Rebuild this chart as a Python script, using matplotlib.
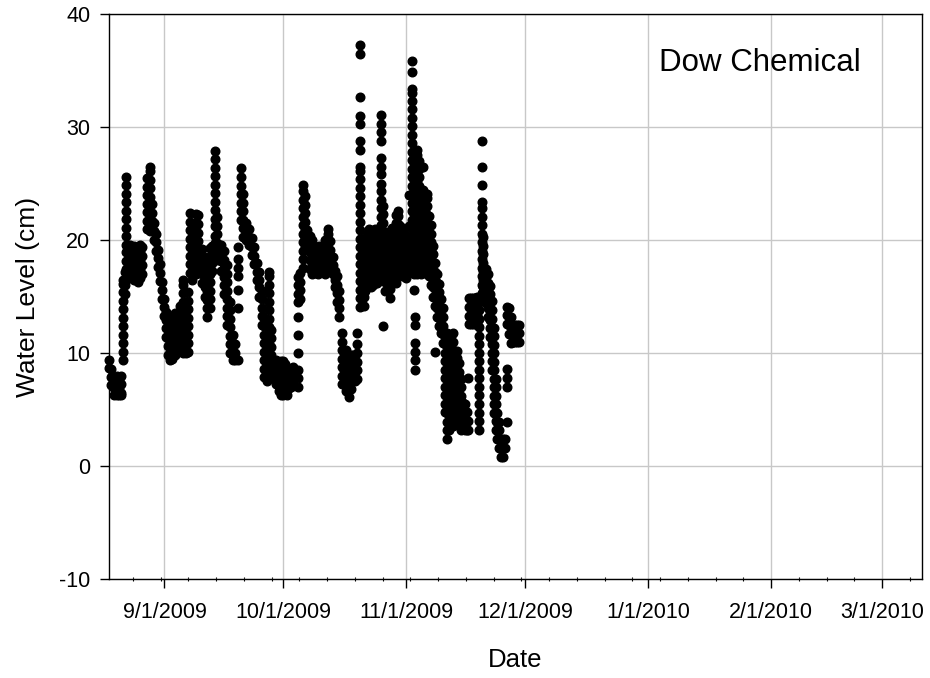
import pandas as pd
import matplotlib
matplotlib.use("Agg")
import matplotlib.pyplot as plt
import matplotlib.dates as mdates

plt.rcParams['font.family'] = ['Liberation Sans', 'DejaVu Sans']
plt.rcParams['axes.unicode_minus'] = False

# days after 2009-08-18 for each stack of readings, and the readings (cm)
start = pd.Timestamp('2009-08-18')
col_day = [
    0.1, 0.6, 1.2, 2.0, 2.6, 3.0, 3.5, 4.0, 4.3, 4.7,
    5.2, 5.7, 6.2, 6.8, 7.3, 7.8, 8.3, 9.6, 10.4, 10.9,
    11.4, 11.9, 12.4, 12.9, 13.4, 13.9, 14.4, 14.9, 15.4, 15.9,
    16.6, 17.1, 17.9, 18.6, 19.4, 19.9, 20.5, 21.0, 22.0, 22.5,
    23.5, 24.1, 24.8, 25.4, 26.0, 26.8, 27.3, 28.3, 29.0, 29.8,
    30.6, 31.3, 31.8, 32.6, 33.3, 33.8, 34.6, 35.3, 36.0, 36.6,
    37.3, 37.9, 38.5, 39.0, 39.6, 39.9, 40.3, 40.8, 41.5, 42.1,
    42.8, 43.3, 43.8, 44.3, 44.8, 45.3, 45.8, 46.5, 47.7, 48.2,
    48.9, 49.4, 49.9, 50.6, 51.1, 51.6, 52.1, 52.6, 53.1, 53.6,
    54.4, 55.2, 55.7, 56.4, 57.0, 57.5, 58.0, 58.7, 59.3, 59.9,
    60.5, 61.0, 61.5, 62.0, 62.6, 63.2, 63.7, 64.2, 64.7, 65.2,
    65.7, 66.2, 66.7, 67.2, 67.7, 68.5, 69.0, 69.6, 70.3, 70.8,
    71.3, 71.8, 72.3, 72.8, 73.3, 73.8, 74.3, 74.8, 75.8, 76.4,
    77.0, 77.3, 77.8, 78.3, 78.8, 79.3, 79.8, 80.3, 80.8, 81.3,
    81.8, 82.3, 82.8, 83.3, 83.8, 84.3, 84.8, 85.3, 85.8, 86.3,
    86.8, 87.3, 87.8, 88.3, 88.8, 89.3, 89.8, 90.3, 90.6, 90.9,
    91.4, 91.9, 92.4, 92.9, 93.4, 94.0, 94.4, 95.0, 95.5, 96.0,
    96.5, 97.0, 97.5, 98.0, 98.5, 99.0, 99.5, 100.0, 100.4, 101.0,
    101.5, 102.0, 102.5, 103.0, 103.4,
]
col_levels = [
    [9.4, 8.7], [8.6, 7.9, 7.2], [7.6, 6.9, 6.3], [8.0, 7.3, 6.6, 6.3],
    [7.6, 6.9, 6.3], [8.0, 7.3, 6.5, 6.3],
    [9.4, 10.1, 10.9, 11.6, 12.4, 13.1, 13.9, 14.6, 15.4, 16.1, 16.5],
    [15.2, 16.0, 16.5, 17.2],
    [16.6, 17.4, 18.1, 18.9, 19.6, 20.4, 21.1, 21.9, 22.6, 23.4, 24.1, 24.9, 25.6],
    [16.6, 17.4, 18.2, 19.0, 19.6],
    [16.6, 17.4, 18.1, 18.9, 19.6], [17.0, 17.8, 18.5, 19.3],
    [16.5, 17.3, 18.0, 18.8, 19.5], [17.1, 17.9, 18.6, 19.4],
    [16.3, 17.0, 17.8, 18.5, 19.3], [16.6, 17.4, 18.2, 19.0, 19.6],
    [17.0, 17.8, 18.6, 19.4],
    [21.0, 21.7, 22.5, 23.2, 24.0, 24.7, 25.5],
    [20.8, 21.6, 22.3, 23.1, 23.8, 24.6, 25.3, 26.1, 26.5],
    [20.9, 21.7, 22.4, 23.2],
    [20.0, 20.8, 21.5], [19.0, 19.8, 20.5], [17.6, 18.4, 19.1], [16.4, 17.1, 17.9],
    [14.8, 15.6, 16.3], [13.3, 14.1, 14.8], [11.4, 12.2, 12.9, 13.6],
    [9.8, 10.6, 11.3, 12.1], [9.4, 10.1, 10.9],
    [9.5, 10.2, 11.0, 11.7, 12.5, 13.2],
    [9.8, 10.5, 11.3, 12.0, 12.8, 13.5], [10.3, 11.0, 11.8, 12.5],
    [10.5, 11.2, 12.0, 12.7, 13.5, 14.2],
    [10.0, 10.8, 11.5, 12.3, 13.0, 13.8, 14.5, 15.3, 16.0, 16.5],
    [10.0, 10.8, 11.5, 12.3, 13.0, 13.8],
    [10.1, 10.9, 11.6, 12.4, 13.1, 13.9, 14.6, 15.4],
    [17.1, 17.9, 18.6, 19.4, 20.1, 20.9, 21.6, 22.4],
    [16.5, 17.3, 18.0, 18.8, 19.5, 20.3],
    [17.0, 17.8, 18.5, 19.3, 20.0, 20.8, 21.5, 22.3],
    [17.6, 18.4, 19.1, 19.9, 20.6, 21.4, 22.2],
    [16.2, 17.0, 17.7, 18.5, 19.2], [15.0, 15.8, 16.5, 17.3, 18.0],
    [13.2, 14.0, 14.7, 15.5, 16.2, 17.0, 17.7, 18.5],
    [14.0, 14.8, 15.5, 16.3, 17.0, 17.8, 18.5, 19.3],
    [17.3, 18.0, 18.8, 19.5],
    [18.9, 19.7, 20.4, 21.2, 21.9, 22.7, 23.4, 24.2, 24.9, 25.7, 26.4, 27.2, 27.9],
    [18.2, 19.0, 19.7, 20.5, 21.2, 22.0],
    [17.3, 18.1, 18.8, 19.6], [15.2, 16.0, 16.7, 17.5, 18.2, 19.0],
    [12.5, 13.3, 14.0, 14.8, 15.5, 16.3, 17.0, 17.8],
    [10.0, 10.8, 11.5, 12.3, 13.0, 13.8, 14.5],
    [9.4, 10.1, 10.9, 11.6], [9.4, 10.0, 10.8],
    [9.4, 14.0, 15.6, 16.8, 17.5, 18.3, 19.4],
    [21.8, 22.6, 23.3, 24.1, 24.8, 25.6, 26.4],
    [20.3, 21.1, 21.8, 22.6, 23.3, 24.1],
    [20.0, 20.8, 21.5], [19.6, 20.3, 21.0], [18.7, 19.4, 20.2], [17.9, 18.6, 19.4],
    [16.5, 17.2, 18.0], [15.0, 15.8, 16.5, 17.2], [12.5, 13.3, 14.0, 14.8, 15.5],
    [7.9, 8.6, 9.4, 10.1, 10.9, 11.6, 12.4, 13.1],
    [7.9, 8.6, 9.4, 10.2, 11.0], [7.5, 8.2, 9.0],
    [8.5, 9.3, 10.0, 10.8, 11.5, 12.3, 13.0, 13.8, 14.5, 15.3, 16.0, 16.8, 17.2],
    [9.0, 9.8, 10.5, 11.3, 12.0],
    [7.8, 8.5, 9.3], [7.3, 8.0, 8.8, 9.4],
    [6.6, 7.3, 8.1, 8.8], [6.3, 7.0, 7.8, 8.5, 9.3], [6.3, 7.0, 7.8, 8.5, 9.3],
    [6.8, 7.5, 8.3, 9.0], [6.3, 7.1, 7.8, 8.6], [6.9, 7.6, 8.4], [7.0, 7.8, 8.5],
    [7.3, 8.1, 8.8],
    [7.0, 7.8, 8.5, 10.0, 11.6, 13.2, 14.5, 15.2, 16.0, 16.7],
    [14.8, 15.6, 16.3, 17.1],
    [17.5, 18.3, 19.0, 19.8, 20.5, 21.3, 22.0, 22.8, 23.5, 24.3, 24.9],
    [19.4, 20.1, 20.9, 21.6, 22.4, 23.1, 23.9], [19.4, 20.1, 20.9],
    [17.4, 18.2, 18.9, 19.7, 20.4], [17.0, 17.8, 18.5, 19.3, 20.0],
    [17.2, 17.9, 18.7, 19.4], [17.1, 17.9, 18.6, 19.4], [17.0, 17.7, 18.5, 19.2],
    [17.3, 18.0, 18.8, 19.5], [17.8, 18.6, 19.3],
    [17.0, 17.7, 18.5, 19.2, 20.0], [18.2, 19.0, 19.7, 20.5, 21.0],
    [17.6, 18.4, 19.1, 19.9],
    [17.0, 17.8, 18.5], [15.8, 16.5, 17.3], [14.5, 15.3, 16.0, 16.8],
    [13.2, 14.0, 14.7, 15.5],
    [7.3, 8.0, 8.8, 9.5, 10.3, 11.0, 11.8], [7.8, 8.5, 9.3, 10.0],
    [6.6, 7.3, 8.1, 8.8, 9.6, 10.3], [6.1, 6.8, 7.6, 8.3, 9.1, 9.8],
    [6.8, 7.6, 8.3, 9.1, 9.8], [7.5, 8.3, 9.0, 9.8], [7.5, 8.3, 9.0, 9.8],
    [7.7, 8.5, 9.2, 10.0, 10.8, 11.8],
    [14.1, 14.9, 15.6, 16.4, 17.1, 17.9, 18.6, 19.4, 20.1, 20.9, 21.6, 22.4,
     23.1, 23.9, 24.6, 25.4, 26.1, 26.5, 28.0, 28.8, 30.3, 31.0, 32.7, 36.5, 37.3],
    [14.8, 15.6, 16.3, 17.1, 17.8, 18.6, 19.3, 20.1],
    [14.2, 15.0, 15.7, 16.5, 17.2, 18.0, 18.7, 19.5],
    [15.5, 16.3, 17.0, 17.8, 18.5, 19.3, 20.0],
    [16.0, 16.8, 17.5, 18.3, 19.0, 19.8, 20.5],
    [16.4, 17.2, 17.9, 18.7, 19.4, 20.2, 21.0],
    [15.8, 16.5, 17.3, 18.0, 18.8, 19.5, 20.3],
    [16.0, 16.8, 17.5, 18.3, 19.0, 19.8],
    [16.5, 17.3, 18.0, 18.8, 19.5, 20.3, 21.0],
    [16.2, 17.0, 17.7, 18.5, 19.2, 20.0],
    [16.8, 17.5, 18.3, 19.0, 19.8, 20.5, 21.3, 22.0, 22.8, 23.5, 24.3, 25.0,
     25.8, 26.5, 27.3, 28.8, 29.6, 30.3, 31.1],
    [12.4, 17.0, 17.8, 18.5, 19.3, 20.0, 20.8, 21.5, 22.3, 23.0],
    [15.5, 16.3, 17.0, 17.8, 18.5, 19.3, 20.0],
    [16.2, 17.0, 17.7, 18.5, 19.2, 20.0, 20.7],
    [14.9, 15.7, 16.4, 17.2, 17.9, 18.7, 19.4, 20.2],
    [16.6, 17.4, 18.1, 18.9, 19.6, 20.4, 21.1],
    [17.0, 17.7, 18.5, 19.2, 20.0, 20.7],
    [16.2, 17.0, 17.7, 18.5, 19.2, 20.0, 20.7, 21.5, 22.2],
    [16.9, 17.6, 18.4, 19.1, 19.9, 20.6, 21.4, 22.1, 22.6],
    [17.4, 18.2, 18.9, 19.7, 20.4, 21.2],
    [16.8, 17.6, 18.3, 19.1, 19.8],
    [17.3, 18.1, 18.8, 19.6, 20.3, 21.0],
    [16.6, 17.4, 18.1, 18.9, 19.6],
    [17.4, 18.2, 18.9, 19.7, 20.4, 21.2, 24.0],
    [17.3, 18.1, 18.8, 19.6, 20.3, 21.1, 21.8, 22.6, 23.3, 24.1, 24.8, 25.6,
     26.3, 27.1, 27.8, 28.6, 29.3, 30.1, 30.8, 31.6, 32.3, 33.0, 33.4, 34.9, 35.8],
    [15.6, 17.0, 17.8, 18.5, 19.3, 20.0, 20.8, 21.5, 22.3, 23.0, 23.8, 24.5,
     25.3, 26.0, 26.8, 27.5],
    [8.5, 9.4, 10.1, 10.9, 12.5, 13.2],
    [17.0, 17.7, 18.5, 19.2, 20.0, 20.7, 21.5, 22.2, 23.0, 23.7, 24.5, 25.2,
     26.0, 26.7, 27.5, 28.0],
    [17.3, 18.1, 18.8, 19.6, 20.3, 21.1, 21.8, 22.6, 23.3, 24.1, 24.8, 25.6,
     26.3, 27.0],
    [17.0, 17.7, 18.5, 19.2, 20.0, 20.7, 21.5, 22.2, 23.0, 23.7],
    [17.6, 18.4, 19.1, 19.9, 20.6, 21.4, 22.1, 22.9, 23.6, 24.4, 26.5],
    [17.3, 18.1, 18.8, 19.6, 20.3, 21.1, 21.8, 22.6],
    [17.0, 17.7, 18.5, 19.2, 20.0, 20.7, 21.5, 22.2, 23.0, 23.7, 24.1],
    [16.8, 17.6, 18.3, 19.1, 19.8, 20.6, 21.3, 22.1],
    [16.0, 16.8, 17.5, 18.3, 19.0, 19.8, 20.5, 21.3],
    [15.0, 15.8, 16.5, 17.3, 18.0, 18.8, 19.5],
    [10.1, 14.2, 15.0, 15.7, 16.5, 17.2, 18.0],
    [13.2, 14.0, 14.7, 15.5, 16.2, 17.0],
    [12.4, 13.1, 13.9, 14.6, 15.4, 16.1],
    [11.8, 12.5, 13.3, 14.0, 14.8],
    [10.9, 11.7, 12.4, 13.2, 14.0],
    [4.8, 5.5, 6.3, 7.0, 7.8, 8.5, 9.3, 10.0, 10.8, 11.5],
    [2.4, 3.2, 3.9, 4.7, 5.4, 6.2, 6.9, 7.7, 8.4, 9.2, 9.9, 10.7, 11.4, 11.8],
    [3.2, 4.0, 4.7, 5.5, 6.2, 7.0, 7.7, 8.5, 9.2, 10.0, 10.7],
    [4.0, 4.8, 5.5, 6.3, 7.0, 7.8, 8.5, 9.3, 10.0, 10.8, 11.5],
    [3.5, 4.3, 5.0, 5.8, 6.5, 7.3, 8.0, 8.8, 9.5, 10.3, 11.0, 11.8],
    [4.0, 4.8, 5.5, 6.3, 7.0, 7.8, 8.5, 9.3, 10.0],
    [4.4, 5.1, 5.9, 6.6, 7.4, 8.1, 8.9, 9.6, 10.2],
    [3.8, 4.6, 5.3, 6.1, 6.8, 7.6, 8.3, 9.1],
    [3.2, 4.0, 4.7, 5.5, 6.2, 7.0, 7.7],
    [3.5, 4.3, 5.0, 5.6], [3.2, 4.0, 4.7, 5.5], [3.2, 4.0, 4.8], [3.2, 4.0, 7.8],
    [12.6, 13.3, 14.1, 14.9], [12.6, 13.4, 14.1, 14.9], [12.6, 13.3, 14.1, 14.9],
    [12.6, 13.3, 14.1, 14.9], [12.6, 13.4, 14.2, 15.0],
    [3.2, 4.0, 4.7, 5.5, 6.3, 7.0, 7.8, 8.5, 9.3, 10.0, 10.8, 11.5, 12.3, 13.0,
     13.8, 14.5],
    [15.3, 16.0, 16.8, 17.5, 18.3, 19.0, 19.8, 20.5, 21.3, 22.0, 22.8, 23.4,
     24.9, 26.5, 28.8],
    [15.0, 15.8, 16.5, 17.3, 18.0, 18.8, 19.5, 20.3],
    [14.4, 15.2, 15.9, 16.7, 17.4],
    [13.2, 14.0, 14.7, 15.5, 16.2, 17.0],
    [11.4, 12.2, 12.9, 13.7, 14.4, 15.2, 15.9],
    [8.5, 9.3, 10.0, 10.8, 11.5, 12.3, 13.0, 13.8, 14.6],
    [4.7, 5.5, 6.2, 7.0, 7.7, 8.5, 9.2, 10.0, 10.7, 11.5, 12.2],
    [3.2, 4.0, 4.7, 5.5, 6.2, 7.0, 7.7],
    [2.4, 3.2, 3.9, 4.7], [1.6, 2.4, 3.2, 3.9], [0.8, 1.6, 2.4], [0.8, 1.6, 2.4],
    [1.6, 2.4],
    [3.9, 7.0, 7.8, 8.6, 12.6, 13.4, 14.1],
    [11.7, 12.5, 13.2, 14.0], [10.9, 11.7, 12.4, 13.2], [11.0, 11.8, 12.5],
    [11.0, 11.8, 12.5], [11.0, 11.7, 12.5], [11.0, 11.8, 12.5],
]

month_ticks = pd.date_range('2009-09-01', '2010-03-01', freq='MS')

fechas = []
niveles = []
for d, vals in zip(col_day, col_levels):
    for v in vals:
        fechas.append(start + pd.Timedelta(days=d))
        niveles.append(v)

fig = plt.figure(figsize=(9.3, 6.78), dpi=100)
ax = fig.add_axes([0.1172, 0.1460, 0.8742, 0.8333])

ax.plot(fechas, niveles, linestyle='none', marker='o', markersize=6.2,
        color='black', zorder=3, clip_on=False)

ax.set_xlim(pd.Timestamp('2009-08-18'), pd.Timestamp('2010-03-11 02:00'))
ax.set_ylim(-10, 40)
ax.set_yticks([-10, 0, 10, 20, 30, 40])

ax.xaxis.set_major_locator(mdates.MonthLocator())
ax.xaxis.set_minor_locator(mdates.WeekdayLocator(byweekday=mdates.MO))
ax.set_xticks(month_ticks)
ax.set_xticklabels([f"{t.month}/{t.day}/{t.year}" for t in month_ticks])

ax.grid(True, which='major', color='#c8c8c8', linewidth=1.0, zorder=0)
ax.set_axisbelow(True)
for s in ax.spines.values():
    s.set_linewidth(1.0)

ax.tick_params(axis='both', which='major', direction='out', length=6.5,
               width=1.0, labelsize=15.5, pad=7)
ax.tick_params(axis='x', which='major', pad=10)
ax.tick_params(axis='x', which='minor', direction='inout', length=3, width=0.8)

ax.set_xlabel('Date', fontsize=18.5, labelpad=18)
ax.set_ylabel('Water Level (cm)', fontsize=19, labelpad=14)

ax.text(0.925, 0.913, 'Dow Chemical', transform=ax.transAxes,
        fontsize=22.5, ha='right', va='center')

fig.savefig('out.png', dpi=100)
